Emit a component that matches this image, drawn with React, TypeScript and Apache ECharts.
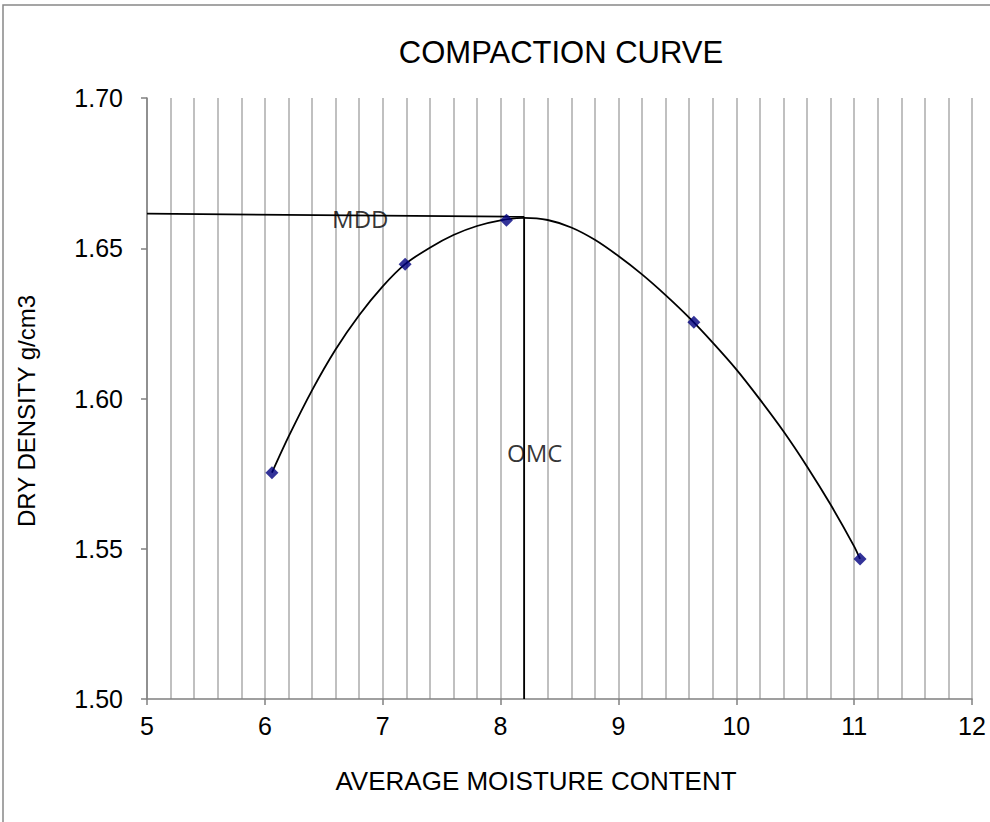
import React, { useEffect, useRef } from "react";
import * as echarts from "echarts";

// Measured points (average moisture content, dry density)
const moisture = [6.06, 7.19, 8.05, 9.64, 11.05];
const density = [1.5753, 1.6447, 1.6593, 1.6254, 1.5466];

// Trend curve
const curveX = [6.06, 6.2, 6.4, 6.6, 6.8, 7.0, 7.19, 7.4, 7.6, 7.8, 8.0, 8.2, 8.4, 8.6, 8.8, 9.0, 9.2, 9.4, 9.6, 9.8, 10.0, 10.2, 10.4, 10.6, 10.8, 11.0, 11.05];
const curveY = [1.5753, 1.5872, 1.6027, 1.6163, 1.6277, 1.6373, 1.6447, 1.6502, 1.6544, 1.6574, 1.6593, 1.6601, 1.6594, 1.6569, 1.6528, 1.6474, 1.6413, 1.6344, 1.6269, 1.6186, 1.6097, 1.5997, 1.5891, 1.5774, 1.5647, 1.5508, 1.5466];

// MDD / OMC construction lines
const mddX = [5, 8.2];
const mddY = [1.6615, 1.6605];
const omcX = [8.2, 8.2];
const omcY = [1.6605, 1.5];

const labelTexts = ["MDD", "OMC"];
const labelX = [6.81, 8.29];
const labelY = [1.66, 1.582];

const title = "COMPACTION CURVE";
const xName = "AVERAGE MOISTURE CONTENT";
const yName = "DRY DENSITY g/cm3";

const FONT = "'Liberation Sans', Arial, sans-serif";

export default function App() {
  const ref = useRef<HTMLDivElement>(null);
  useEffect(() => {
    if (!ref.current) return;
    const chart = echarts.init(ref.current, undefined, { renderer: "svg" });
    const zip = (a: number[], b: number[]) => a.map((v, i) => [v, b[i]]);
    chart.setOption({
      animation: false,
      backgroundColor: "#ffffff",
      textStyle: { fontFamily: FONT },
      grid: { left: 147, right: 18, top: 98, bottom: 123, containLabel: false },
      xAxis: {
        type: "value",
        min: 5,
        max: 12,
        interval: 1,
        axisLine: { show: true, lineStyle: { color: "#808080", width: 1.5 } },
        axisTick: { show: true, inside: false, length: 6, lineStyle: { color: "#808080", width: 1.5 } },
        axisLabel: { color: "#000", fontSize: 25, margin: 14, fontFamily: FONT },
        splitLine: { show: true, lineStyle: { color: "#c0c0c0", width: 2 } },
        minorTick: { show: false, splitNumber: 5 },
        minorSplitLine: { show: true, lineStyle: { color: "#c0c0c0", width: 2 } },
      },
      yAxis: {
        type: "value",
        min: 1.5,
        max: 1.7,
        interval: 0.05,
        axisLine: { show: true, lineStyle: { color: "#808080", width: 1.5 } },
        axisTick: { show: true, inside: false, length: 6, lineStyle: { color: "#808080", width: 1.5 } },
        axisLabel: { color: "#000", fontSize: 25, margin: 24, fontFamily: FONT, formatter: (v: number) => v.toFixed(2) },
        splitLine: { show: false },
      },
      graphic: [
        {
          type: "rect",
          shape: { x: 3, y: 5, width: 1000, height: 830 },
          style: { fill: "none", stroke: "#888", lineWidth: 1.5 },
          silent: true,
          z: -10,
        },
        {
          type: "text",
          x: 561,
          y: 52,
          style: { text: title, fill: "#000", font: `31px ${FONT}`, textAlign: "center", textVerticalAlign: "middle" },
        },
        {
          type: "text",
          x: 536,
          y: 781,
          style: { text: xName, fill: "#000", font: `26px ${FONT}`, textAlign: "center", textVerticalAlign: "middle" },
        },
        {
          type: "text",
          x: 26,
          y: 411,
          rotation: Math.PI / 2,
          style: { text: yName, fill: "#000", font: `24px ${FONT}`, textAlign: "center", textVerticalAlign: "middle" },
        },
      ],
      series: [
        {
          type: "line",
          data: zip(curveX, curveY),
          smooth: 0.3,
          showSymbol: false,
          symbol: "none",
          lineStyle: { color: "#000", width: 1.8 },
          z: 3,
        },
        {
          type: "line",
          data: zip(mddX, mddY),
          showSymbol: false,
          symbol: "none",
          lineStyle: { color: "#000", width: 1.8 },
          z: 3,
        },
        {
          type: "line",
          data: zip(omcX, omcY),
          showSymbol: false,
          symbol: "none",
          lineStyle: { color: "#000", width: 1.8 },
          z: 3,
        },
        {
          type: "scatter",
          data: zip(moisture, density),
          symbol: "diamond",
          symbolSize: 13,
          itemStyle: { color: "#00007f" },
          z: 5,
        },
        {
          type: "scatter",
          data: labelTexts.map((t, i) => ({ value: [labelX[i], labelY[i]], name: t })),
          symbolSize: 0,
          itemStyle: { color: "transparent" },
          label: {
            show: true,
            position: "inside",
            formatter: (p: any) => p.name,
            color: "#000",
            fontSize: 24,
            fontFamily: "'Open Sans', 'Noto Sans', sans-serif",
          },
          z: 6,
        },
      ],
    });
    return () => chart.dispose();
  }, []);
  return <div ref={ref} style={{ position: "fixed", left: 0, top: 0, width: 990, height: 822 }} />;
}
